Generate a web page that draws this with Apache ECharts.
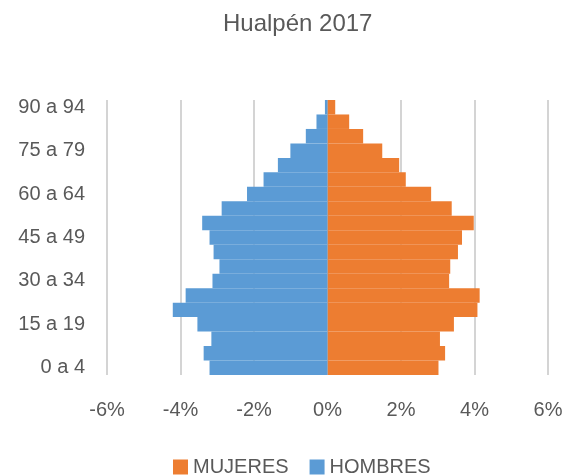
<!DOCTYPE html>
<html>
<head>
<meta charset="utf-8">
<script src="https://cdn.jsdelivr.net/npm/echarts@6/dist/echarts.min.js"></script>
<style>
  html, body { margin: 0; padding: 0; background: #fff; }
  #chart { width: 566px; height: 476px; }
</style>
</head>
<body>
<div id="chart"></div>
<script>
// Pirámide de población Hualpén 2017
var grupos = ['0 a 4', '5 a 9', '10 a 14', '15 a 19', '20 a 24', '25 a 29', '30 a 34',
  '35 a 39', '40 a 44', '45 a 49', '50 a 54', '55 a 59', '60 a 64', '65 a 69',
  '70 a 74', '75 a 79', '80 a 84', '85 a 89', '90 a 94'];
var mujeres = [3.02, 3.20, 3.06, 3.44, 4.08, 4.14, 3.31, 3.34, 3.55, 3.66,
  3.98, 3.38, 2.82, 2.13, 1.95, 1.49, 0.97, 0.59, 0.21];
var hombres = [-3.21, -3.37, -3.16, -3.54, -4.21, -3.86, -3.13, -2.94, -3.10, -3.21,
  -3.41, -2.88, -2.19, -1.74, -1.35, -1.01, -0.59, -0.30, -0.07];
var ticksX = [-6, -4, -2, 0, 2, 4, 6];

(function() {
  var gris = '#595959';
  var fuente = 'Liberation Sans, Arial, sans-serif';
  var chart = echarts.init(document.getElementById('chart'));
  chart.setOption({
    animation: false,
    title: {
      text: 'Hualpén 2017',
      left: 218,
      top: 7,
      textStyle: { color: gris, fontSize: 24, fontWeight: 'normal', fontFamily: fuente }
    },
    legend: {
      data: ['MUJERES', 'HOMBRES'],
      top: 452,
      left: 168,
      itemWidth: 15,
      itemHeight: 15,
      itemGap: 21,
      icon: 'rect',
      textStyle: { color: gris, fontSize: 20, fontFamily: fuente }
    },
    grid: { left: 107, right: 18, top: 100, bottom: 101 },
    xAxis: {
      type: 'value',
      min: ticksX[0],
      max: ticksX[ticksX.length - 1],
      interval: 2,
      axisLine: { show: false },
      axisTick: { show: false },
      splitLine: { lineStyle: { color: '#d4d4d4', width: 2 } },
      axisLabel: {
        color: gris, fontSize: 20, fontFamily: fuente, margin: 25,
        formatter: function(v) { return v + '%'; }
      }
    },
    yAxis: {
      type: 'category',
      data: grupos,
      axisLine: { show: false },
      axisTick: { show: false },
      splitLine: { show: false },
      axisLabel: { color: gris, fontSize: 20, fontFamily: fuente, interval: 2, margin: 22 }
    },
    series: [
      {
        name: 'MUJERES',
        type: 'bar',
        stack: 'total',
        barCategoryGap: 0,
        barWidth: '100%',
        itemStyle: { color: '#ED7D31' },
        data: mujeres
      },
      {
        name: 'HOMBRES',
        type: 'bar',
        stack: 'total',
        barCategoryGap: 0,
        barWidth: '100%',
        itemStyle: { color: '#5B9BD5' },
        data: hombres
      }
    ]
  });
})();
</script>
</body>
</html>
